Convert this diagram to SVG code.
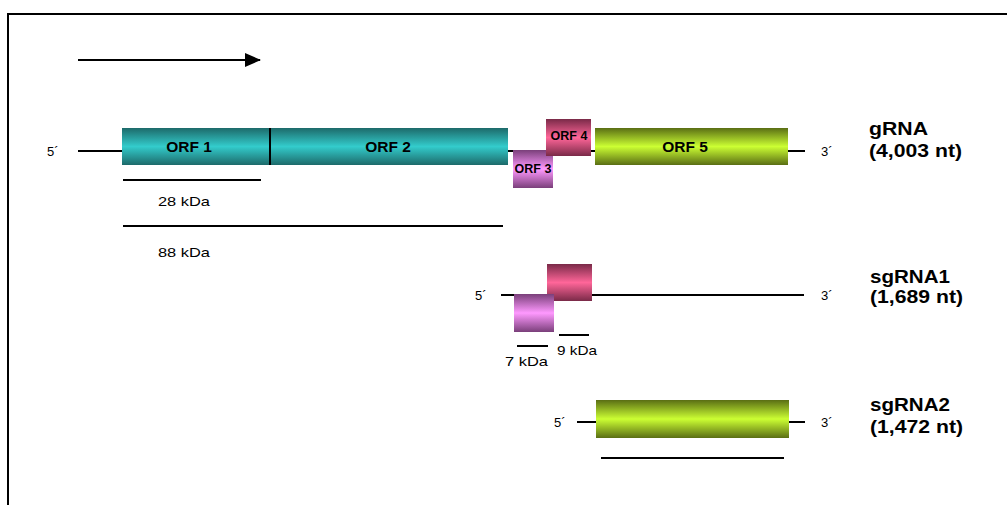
<svg xmlns="http://www.w3.org/2000/svg" width="1007" height="505" viewBox="0 0 1007 505">
<defs>
<linearGradient id="gTeal" x1="0" y1="0" x2="0" y2="1">
<stop offset="0" stop-color="#1d6a6a"/><stop offset="0.5" stop-color="#33cccc"/><stop offset="1" stop-color="#1d6a6a"/>
</linearGradient>
<linearGradient id="gLime" x1="0" y1="0" x2="0" y2="1">
<stop offset="0" stop-color="#5a6e14"/><stop offset="0.5" stop-color="#ccff33"/><stop offset="1" stop-color="#5a6e14"/>
</linearGradient>
<linearGradient id="gPink" x1="0" y1="0" x2="0" y2="1">
<stop offset="0" stop-color="#7a2a48"/><stop offset="0.5" stop-color="#ff6699"/><stop offset="1" stop-color="#7a2a48"/>
</linearGradient>
<linearGradient id="gPurple" x1="0" y1="0" x2="0" y2="1">
<stop offset="0" stop-color="#7a3f7a"/><stop offset="0.5" stop-color="#ff99ff"/><stop offset="1" stop-color="#7a3f7a"/>
</linearGradient>
<marker id="arr" markerWidth="16" markerHeight="14" refX="15" refY="7" orient="auto" markerUnits="userSpaceOnUse">
<path d="M0,0 L16,7 L0,14 Z" fill="#000"/>
</marker>
<style>
.ln{stroke:#000;stroke-width:2;fill:none}
.t{font-family:"Liberation Sans",Arial,sans-serif;font-size:13px;fill:#000}
.orf{font-family:"Liberation Sans",Arial,sans-serif;font-size:15.5px;font-weight:bold;fill:#000;text-anchor:middle}
.orfs{font-family:"Liberation Sans",Arial,sans-serif;font-size:12.5px;font-weight:bold;fill:#000;text-anchor:middle}
.lab{font-family:"Liberation Sans",Arial,sans-serif;font-size:18px;font-weight:bold;fill:#000}
</style>
</defs>
<rect x="0" y="0" width="1007" height="505" fill="#fff"/>
<path d="M8,505 L8,14 L1007,14" class="ln" stroke-width="2.5"/>

<g id="connectors">
<line x1="78" y1="60" x2="260" y2="60" class="ln" marker-end="url(#arr)"/>
<line x1="78" y1="151" x2="122" y2="151" class="ln"/>
<line x1="508" y1="151" x2="595" y2="151" class="ln"/>
<line x1="788" y1="151" x2="805" y2="151" class="ln"/>
<line x1="123" y1="180" x2="261" y2="180" class="ln"/>
<line x1="123" y1="226" x2="503" y2="226" class="ln"/>
<line x1="501" y1="295" x2="804" y2="295" class="ln"/>
<line x1="517" y1="346" x2="548" y2="346" class="ln"/>
<line x1="559" y1="335" x2="589" y2="335" class="ln"/>
<line x1="577" y1="422" x2="805" y2="422" class="ln"/>
<line x1="601" y1="458" x2="784" y2="458" class="ln"/>
</g>

<g id="gRNA">
<text x="47" y="156" class="t">5´</text>
<rect x="122" y="128" width="148" height="37" fill="url(#gTeal)"/>
<rect x="270" y="128" width="238" height="37" fill="url(#gTeal)"/>
<line x1="270" y1="128" x2="270" y2="165" class="ln"/>
<text x="189" y="152" class="orf">ORF 1</text>
<text x="388" y="152" class="orf">ORF 2</text>
<rect x="513" y="150" width="40" height="38" fill="url(#gPurple)"/>
<text x="533" y="173" class="orfs">ORF 3</text>
<rect x="546" y="119" width="45" height="37" fill="url(#gPink)"/>
<text x="569" y="140" class="orfs">ORF 4</text>
<rect x="595" y="128" width="193" height="37" fill="url(#gLime)"/>
<text x="685" y="152" class="orf">ORF 5</text>
<text x="821" y="156" class="t">3´</text>
<text x="869" y="135" class="lab" textLength="59" lengthAdjust="spacingAndGlyphs">gRNA</text>
<text x="869" y="157" class="lab" textLength="93" lengthAdjust="spacingAndGlyphs">(4,003 nt)</text>
<text x="158" y="206" class="t" textLength="52" lengthAdjust="spacingAndGlyphs">28 kDa</text>
<text x="158" y="257" class="t" textLength="52" lengthAdjust="spacingAndGlyphs">88 kDa</text>
</g>

<g id="sgRNA1">
<text x="475" y="300" class="t">5´</text>
<rect x="547" y="264" width="45" height="37" fill="url(#gPink)"/>
<rect x="514" y="294" width="40" height="38" fill="url(#gPurple)"/>
<text x="821" y="300" class="t">3´</text>
<text x="870" y="283" class="lab" textLength="80" lengthAdjust="spacingAndGlyphs">sgRNA1</text>
<text x="870" y="303" class="lab" textLength="93" lengthAdjust="spacingAndGlyphs">(1,689 nt)</text>
<text x="505" y="366" class="t" textLength="43" lengthAdjust="spacingAndGlyphs">7 kDa</text>
<text x="557" y="355" class="t" textLength="40" lengthAdjust="spacingAndGlyphs">9 kDa</text>
</g>

<g id="sgRNA2">
<text x="554" y="427" class="t">5´</text>
<rect x="596" y="400" width="193" height="38" fill="url(#gLime)"/>
<text x="821" y="427" class="t">3´</text>
<text x="870" y="411" class="lab" textLength="80" lengthAdjust="spacingAndGlyphs">sgRNA2</text>
<text x="870" y="433" class="lab" textLength="93" lengthAdjust="spacingAndGlyphs">(1,472 nt)</text>
</g>
</svg>
